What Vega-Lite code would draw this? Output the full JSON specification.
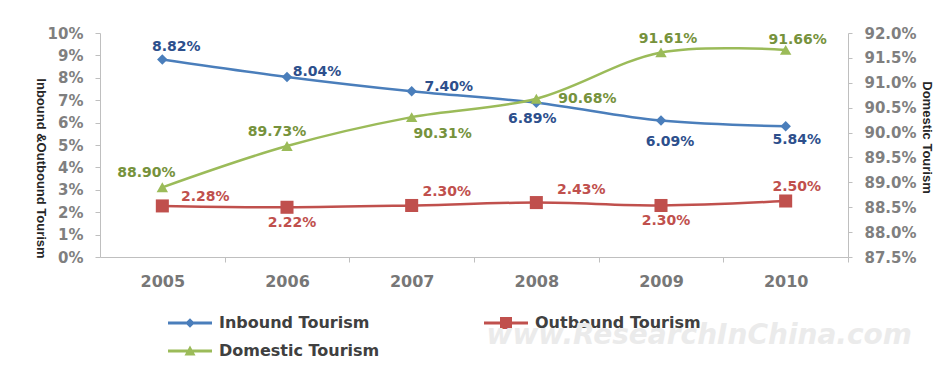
{
  "$schema": "https://vega.github.io/schema/vega-lite/v6.json",
  "width": 748,
  "height": 224,
  "autosize": {"type": "none"},
  "padding": {"left": 100, "top": 33, "right": 98, "bottom": 124},
  "background": "white",
  "title": {"text": "www.ResearchInChina.com", "orient": "bottom", "anchor": "end", "font": "DejaVu Sans", "fontSize": 28, "fontStyle": "italic", "fontWeight": "bold", "color": "#ebebeb", "offset": 28, "dx": -20, "dy": -65},
  "config": {
    "view": {"stroke": null},
    "text": {"font": "DejaVu Sans", "fontSize": 14, "fontWeight": "bold"},
    "axis": {"labelFont": "DejaVu Sans", "labelFontWeight": "bold", "labelColor": "#7f7f7f", "domainColor": "#bfbfbf", "tickColor": "#bfbfbf", "grid": false, "titleFont": "Liberation Sans", "titleFontWeight": "bold", "titleColor": "#262626", "titleFontSize": 13}
  },
  "data": {"values": [
    {"year": "2005", "series": "Inbound Tourism", "value": 0.0882},
    {"year": "2006", "series": "Inbound Tourism", "value": 0.0804},
    {"year": "2007", "series": "Inbound Tourism", "value": 0.0740},
    {"year": "2008", "series": "Inbound Tourism", "value": 0.0689},
    {"year": "2009", "series": "Inbound Tourism", "value": 0.0609},
    {"year": "2010", "series": "Inbound Tourism", "value": 0.0584},
    {"year": "2005", "series": "Outbound Tourism", "value": 0.0228},
    {"year": "2006", "series": "Outbound Tourism", "value": 0.0222},
    {"year": "2007", "series": "Outbound Tourism", "value": 0.0230},
    {"year": "2008", "series": "Outbound Tourism", "value": 0.0243},
    {"year": "2009", "series": "Outbound Tourism", "value": 0.0230},
    {"year": "2010", "series": "Outbound Tourism", "value": 0.0250},
    {"year": "2005", "series": "Domestic Tourism", "value": 0.8890},
    {"year": "2006", "series": "Domestic Tourism", "value": 0.8973},
    {"year": "2007", "series": "Domestic Tourism", "value": 0.9031},
    {"year": "2008", "series": "Domestic Tourism", "value": 0.9068},
    {"year": "2009", "series": "Domestic Tourism", "value": 0.9161},
    {"year": "2010", "series": "Domestic Tourism", "value": 0.9166}
  ]},
  "layer": [
    {
      "encoding": {
        "x": {"field": "year", "type": "ordinal", "scale": {"type": "point", "padding": 0.5},
          "axis": {"title": null, "labelAngle": 0, "labelFontSize": 16, "labelColor": "#777777", "tickSize": 5, "tickOffset": 62.3, "labelOffset": -62.3, "labelPadding": 11}},
        "y": {"field": "value", "type": "quantitative", "scale": {"domain": [0, 0.1]},
          "axis": {"values": [0, 0.01, 0.02, 0.03, 0.04, 0.05, 0.06, 0.07, 0.08, 0.09, 0.1], "format": ".0%", "labelFontSize": 15, "tickSize": 5, "labelPadding": 12,
            "title": "Inbound &Outbound Tourism", "titleAngle": 90, "titleX": -60, "titleY": 135, "titleAlign": "center", "titleBaseline": "middle"}}
      },
      "layer": [
        {"transform": [{"filter": {"field": "series", "equal": "Inbound Tourism"}}], "mark": {"type": "line", "color": "#4a7ebb", "strokeWidth": 2.5, "interpolate": "catmull-rom"}},
        {"transform": [{"filter": {"field": "series", "equal": "Outbound Tourism"}}], "mark": {"type": "line", "color": "#c0504d", "strokeWidth": 2.5, "interpolate": "catmull-rom"}},
        {"transform": [{"filter": {"field": "series", "equal": "Inbound Tourism"}}], "mark": {"type": "point", "shape": "diamond", "filled": true, "opacity": 1, "color": "#4a7ebb", "size": 110}},
        {"transform": [{"filter": {"field": "series", "equal": "Outbound Tourism"}}], "mark": {"type": "point", "shape": "square", "filled": true, "opacity": 1, "color": "#c0504d", "size": 170}},
        {"transform": [{"filter": {"and": [{"field": "series", "equal": "Inbound Tourism"}, {"field": "year", "equal": "2005"}]}}], "mark": {"type": "text", "dx": 14, "dy": -12, "color": "#2d4f8c"}, "encoding": {"text": {"field": "value", "format": ".2%"}}},
        {"transform": [{"filter": {"and": [{"field": "series", "equal": "Inbound Tourism"}, {"field": "year", "equal": "2006"}]}}], "mark": {"type": "text", "dx": 30, "dy": -5, "color": "#2d4f8c"}, "encoding": {"text": {"field": "value", "format": ".2%"}}},
        {"transform": [{"filter": {"and": [{"field": "series", "equal": "Inbound Tourism"}, {"field": "year", "equal": "2007"}]}}], "mark": {"type": "text", "dx": 37, "dy": -4, "color": "#2d4f8c"}, "encoding": {"text": {"field": "value", "format": ".2%"}}},
        {"transform": [{"filter": {"and": [{"field": "series", "equal": "Inbound Tourism"}, {"field": "year", "equal": "2008"}]}}], "mark": {"type": "text", "dx": -4, "dy": 16, "color": "#2d4f8c"}, "encoding": {"text": {"field": "value", "format": ".2%"}}},
        {"transform": [{"filter": {"and": [{"field": "series", "equal": "Inbound Tourism"}, {"field": "year", "equal": "2009"}]}}], "mark": {"type": "text", "dx": 9, "dy": 21, "color": "#2d4f8c"}, "encoding": {"text": {"field": "value", "format": ".2%"}}},
        {"transform": [{"filter": {"and": [{"field": "series", "equal": "Inbound Tourism"}, {"field": "year", "equal": "2010"}]}}], "mark": {"type": "text", "dx": 11, "dy": 14, "color": "#2d4f8c"}, "encoding": {"text": {"field": "value", "format": ".2%"}}},
        {"transform": [{"filter": {"and": [{"field": "series", "equal": "Outbound Tourism"}, {"field": "year", "equal": "2005"}]}}], "mark": {"type": "text", "dx": 43, "dy": -9, "color": "#c0504d"}, "encoding": {"text": {"field": "value", "format": ".2%"}}},
        {"transform": [{"filter": {"and": [{"field": "series", "equal": "Outbound Tourism"}, {"field": "year", "oneOf": ["2006", "2009"]}]}}], "mark": {"type": "text", "dx": 5, "dy": 16, "color": "#c0504d"}, "encoding": {"text": {"field": "value", "format": ".2%"}}},
        {"transform": [{"filter": {"and": [{"field": "series", "equal": "Outbound Tourism"}, {"field": "year", "equal": "2007"}]}}], "mark": {"type": "text", "dx": 35, "dy": -13, "color": "#c0504d"}, "encoding": {"text": {"field": "value", "format": ".2%"}}},
        {"transform": [{"filter": {"and": [{"field": "series", "equal": "Outbound Tourism"}, {"field": "year", "equal": "2008"}]}}], "mark": {"type": "text", "dx": 45, "dy": -13, "color": "#c0504d"}, "encoding": {"text": {"field": "value", "format": ".2%"}}},
        {"transform": [{"filter": {"and": [{"field": "series", "equal": "Outbound Tourism"}, {"field": "year", "equal": "2010"}]}}], "mark": {"type": "text", "dx": 11, "dy": -14, "color": "#c0504d"}, "encoding": {"text": {"field": "value", "format": ".2%"}}},
        {"transform": [{"filter": "false"}], "mark": {"type": "point", "filled": true, "opacity": 1},
          "encoding": {
            "color": {"field": "series", "type": "nominal", "scale": {"domain": ["Inbound Tourism", "Domestic Tourism", "Outbound Tourism"], "range": ["#4a7ebb", "#9bbb59", "#c0504d"]},
              "legend": {"title": null, "orient": "none", "legendX": 82, "legendY": 282, "columns": 2, "padding": 0, "symbolSize": 100, "symbolStrokeWidth": 0, "labelOffset": 21, "labelFont": "DejaVu Sans", "labelFontSize": 16, "labelFontWeight": "bold", "labelColor": "#404040", "rowPadding": 12, "columnPadding": 104, "labelLimit": 300}},
            "shape": {"field": "series", "type": "nominal", "scale": {"domain": ["Inbound Tourism", "Domestic Tourism", "Outbound Tourism"], "range": [
              "M-4.4,-0.3H4.4V0.3H-4.4Z M0,-0.95L0.95,0L0,0.95L-0.95,0Z",
              "M-4.4,-0.3H4.4V0.3H-4.4Z M0,-1.1L1.1,0.9H-1.1Z",
              "M-4.4,-0.3H4.4V0.3H-4.4Z M-1.2,-1.2H1.2V1.2H-1.2Z"]},
              "legend": {"title": null, "orient": "none", "legendX": 82, "legendY": 282, "columns": 2, "padding": 0, "symbolSize": 100, "symbolStrokeWidth": 0, "labelOffset": 21, "labelFont": "DejaVu Sans", "labelFontSize": 16, "labelFontWeight": "bold", "labelColor": "#404040", "rowPadding": 12, "columnPadding": 104, "labelLimit": 300}}
          }}
      ]
    },
    {
      "encoding": {
        "x": {"field": "year", "type": "ordinal", "scale": {"type": "point", "padding": 0.5},
          "axis": {"title": null, "labelAngle": 0, "labelFontSize": 16, "labelColor": "#777777", "tickSize": 5, "tickOffset": 62.3, "labelOffset": -62.3, "labelPadding": 11}},
        "y": {"field": "value", "type": "quantitative", "scale": {"domain": [0.875, 0.92]},
          "axis": {"orient": "right", "values": [0.875, 0.88, 0.885, 0.89, 0.895, 0.9, 0.905, 0.91, 0.915, 0.92], "format": ".1%", "labelFontSize": 15, "tickSize": 4, "labelPadding": 12,
            "title": "Domestic Tourism", "titleAngle": 90, "titleX": 78, "titleY": 104, "titleAlign": "center", "titleBaseline": "middle"}}
      },
      "transform": [{"filter": {"field": "series", "equal": "Domestic Tourism"}}],
      "layer": [
        {"mark": {"type": "line", "color": "#9bbb59", "strokeWidth": 2.5, "interpolate": "catmull-rom"}},
        {"mark": {"type": "point", "shape": "triangle-up", "filled": true, "opacity": 1, "color": "#9bbb59", "size": 130}},
        {"transform": [{"filter": {"field": "year", "equal": "2005"}}], "mark": {"type": "text", "dx": -16, "dy": -14, "color": "#76923c"}, "encoding": {"text": {"field": "value", "format": ".2%"}}},
        {"transform": [{"filter": {"field": "year", "equal": "2006"}}], "mark": {"type": "text", "dx": -10, "dy": -14, "color": "#76923c"}, "encoding": {"text": {"field": "value", "format": ".2%"}}},
        {"transform": [{"filter": {"field": "year", "equal": "2007"}}], "mark": {"type": "text", "dx": 31, "dy": 17, "color": "#76923c"}, "encoding": {"text": {"field": "value", "format": ".2%"}}},
        {"transform": [{"filter": {"field": "year", "equal": "2008"}}], "mark": {"type": "text", "dx": 51, "dy": 0, "color": "#76923c"}, "encoding": {"text": {"field": "value", "format": ".2%"}}},
        {"transform": [{"filter": {"field": "year", "equal": "2009"}}], "mark": {"type": "text", "dx": 7, "dy": -13, "color": "#76923c"}, "encoding": {"text": {"field": "value", "format": ".2%"}}},
        {"transform": [{"filter": {"field": "year", "equal": "2010"}}], "mark": {"type": "text", "dx": 12, "dy": -10, "color": "#76923c"}, "encoding": {"text": {"field": "value", "format": ".2%"}}}
      ]
    }
  ],
  "resolve": {"scale": {"y": "independent"}}
}
